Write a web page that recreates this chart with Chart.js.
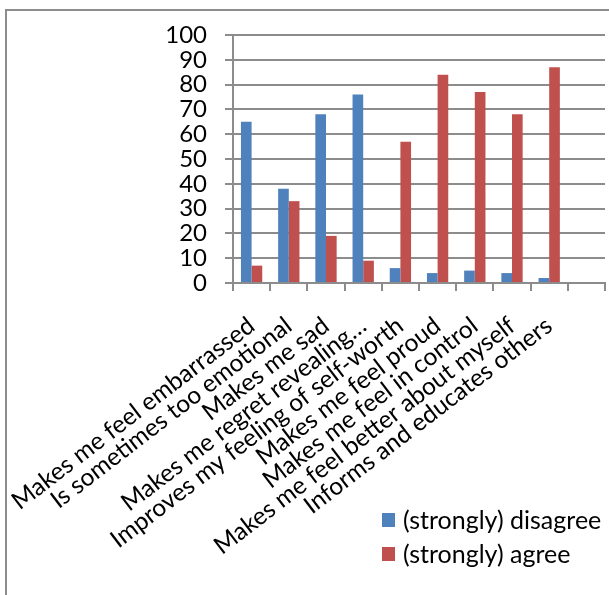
<!DOCTYPE html>
<html><head><meta charset="utf-8">
<script src="https://cdn.jsdelivr.net/npm/chart.js@4.4.1/dist/chart.umd.min.js"></script>
<style>html,body{margin:0;padding:0;background:#fff;} #wrap{position:relative;width:609px;height:595px;}</style>
</head><body><div id="wrap"><canvas id="c" width="609" height="595"></canvas></div>
<script>
const categories = ["Makes me feel embarrassed","Is sometimes too emotional","Makes me sad","Makes me regret revealing…","Improves my feeling of self-worth","Makes me feel proud","Makes me feel in control","Makes me feel better about myself","Informs and educates others",""];
const disagree = [65,38,68,76,6,4,5,4,2,null];
const agree = [7,33,19,9,57,84,77,68,87,null];
const seriesLabels = ["(strongly) disagree","(strongly) agree"];
const yMin = 0, yMax = 100, yStep = 10;

const FONT = 'Lato';
const GRID = '#8c8c8c';

const framePlugin = {
  id: 'frame',
  beforeDraw(chart) {
    const ctx = chart.ctx;
    ctx.save();
    ctx.strokeStyle = '#8c8c8c';
    ctx.lineWidth = 2;
    ctx.beginPath();
    ctx.moveTo(6, 595);
    ctx.lineTo(6, 10);
    ctx.lineTo(609, 10);
    ctx.stroke();
    ctx.restore();
  }
};

const legendPlugin = {
  id: 'customLegend',
  afterDraw(chart) {
    const ctx = chart.ctx;
    ctx.save();
    chart.data.datasets.forEach((ds, i) => {
      const y = 520 + i * 34;
      ctx.fillStyle = ds.backgroundColor;
      ctx.fillRect(382, y - 7, 13, 14);
      ctx.fillStyle = '#000';
      ctx.font = '25px ' + FONT;
      ctx.textBaseline = 'middle';
      ctx.textAlign = 'left';
      ctx.fillText(ds.label, 403, y + 1);
    });
    ctx.restore();
  }
};

new Chart(document.getElementById('c'), {
  type: 'bar',
  data: {
    labels: categories,
    datasets: [
      { label: seriesLabels[0], data: disagree, backgroundColor: '#4F81BD', categoryPercentage: 0.573, barPercentage: 1.0 },
      { label: seriesLabels[1], data: agree, backgroundColor: '#C0504D', categoryPercentage: 0.573, barPercentage: 1.0 }
    ]
  },
  options: {
    responsive: false,
    animation: false,
    layout: { padding: { top: 35, right: 4, left: 0, bottom: 0 } },
    plugins: { legend: { display: false }, tooltip: { enabled: false } },
    scales: {
      x: {
        grid: { display: true, drawOnChartArea: false, drawTicks: true, tickLength: 8, color: GRID, lineWidth: 2, offset: true },
        border: { display: true, color: GRID, width: 2 },
        ticks: { color: '#000', font: { family: FONT, size: 24.5 }, minRotation: 37.5, maxRotation: 37.5, autoSkip: false, padding: 20 },
        afterFit(scale) { scale.height = 312; scale.paddingLeft = 0; scale.paddingRight = 0; }
      },
      y: {
        min: yMin, max: yMax,
        grid: { color: GRID, lineWidth: 2, tickLength: 8 },
        border: { display: true, color: GRID, width: 2 },
        ticks: { stepSize: yStep, autoSkip: false, color: '#000', font: { family: FONT, size: 24 }, padding: 18 },
        afterFit(scale) { scale.width = 233; }
      }
    }
  },
  plugins: [framePlugin, legendPlugin]
});
</script>
</body></html>
